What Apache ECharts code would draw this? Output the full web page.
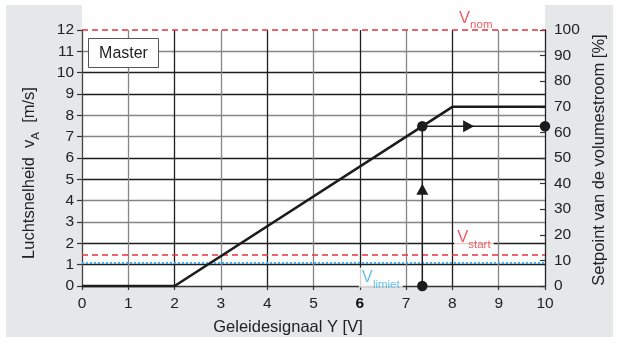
<!DOCTYPE html>
<html><head><meta charset="utf-8">
<script src="https://cdn.jsdelivr.net/npm/echarts@6/dist/echarts.min.js"></script>
<style>html,body{margin:0;padding:0;background:#fff}#c{width:617px;height:344px}</style>
</head><body><div id="c"></div>
<script>
// ---- data ----
const xTickLabels = ['0','1','2','3','4','5','6','7','8','9','10'];
const leftTickLabels = ['0','1','2','3','4','5','6','7','8','9','10','11','12'];
const rightTickLabels = ['0','10','20','30','40','50','60','70','80','90','100'];
const curveX = [0, 2, 8, 10];
const curveY = [0, 0, 8.4, 8.4];
const opX = 7.35;          // operating control signal [V]
const opY = 7.49;          // operating air velocity [m/s]
const arrowUpY = 4.53;
const arrowRightX = 8.35;
const refNames = ['nom', 'start', 'limiet'];
const refValues = [12, 1.45, 1.08];
const refLabelX = [8.08, 8.04, 5.98];

const FONT = "'Liberation Sans', Arial, Helvetica, sans-serif";
const RED = '#e8333c', BLUE = '#3fb1e6', INK = '#1c1c1c';
const GRID_DARK = '#1e1e1e', GRID_LIGHT = '#858585';

const chart = echarts.init(document.getElementById('c'), null, {renderer: 'canvas'});

const curveData = curveX.map((x, i) => [x, curveY[i]]);
const refColor = [RED, RED, BLUE];
const refType = [[6, 4], [6, 4], [2, 2]];
const refWidth = [1.4, 1.4, 2];

const refSeries = refValues.map((v, i) => ({
  type: 'line', name: 'V' + refNames[i], data: [[0, v], [10, v]],
  symbol: 'none', clip: false, z: 4, silent: true,
  lineStyle: {color: refColor[i], width: refWidth[i], type: refType[i]}
}));

const refLabelSeries = refValues.map((v, i) => ({
  type: 'scatter', data: [[refLabelX[i], v]], symbolSize: 0, clip: false, z: 8, silent: true,
  label: {
    show: true, position: [0, 0], align: 'left', verticalAlign: 'middle',
    offset: [0, i === 0 ? -12 : (i === 1 ? -17.5 : 14.5)],
    formatter: '{v|V}{s|' + refNames[i] + '}',
    backgroundColor: i === 0 ? 'transparent' : '#fff', padding: [1, 3, 1, 3],
    rich: {
      v: {fontSize: 16.5, fontFamily: FONT, color: refColor[i], lineHeight: 18, verticalAlign: 'middle'},
      s: {fontSize: 11.5, fontFamily: FONT, color: refColor[i], lineHeight: 10, verticalAlign: 'bottom', padding: [0, 0, -4, 0]}
    }
  }
}));

const option = {
  animation: false,
  grid: {left: 82, right: 72, top: 30, bottom: 58, containLabel: false},
  xAxis: {
    type: 'value', min: 0, max: 10, interval: 1,
    axisLine: {show: true, lineStyle: {color: '#333', width: 1.3}},
    axisTick: {show: true, length: 4, lineStyle: {color: '#333', width: 1.2}},
    axisLabel: {
      color: '#222', fontSize: 15.5, fontFamily: FONT, margin: 10,
      formatter: (v) => { const t = xTickLabels[v]; return t === '6' ? '{b|6}' : t; },
      rich: {b: {fontWeight: 'bold', fontSize: 15.5, fontFamily: FONT, color: '#111'}}
    },
    splitLine: {show: true, showMinLine: false, showMaxLine: false,
      lineStyle: {color: [GRID_LIGHT, GRID_DARK], width: 1.3}}
  },
  yAxis: [{
    type: 'value', min: 0, max: 12, interval: 1, position: 'left',
    name: '{n|Luchtsnelheid  v}{s|A}{n|  [m/s]}', nameLocation: 'middle', nameRotate: 90, nameGap: 44,
    nameTextStyle: {padding: [0, 30, 0, 0],
      rich: {n: {fontSize: 16.5, fontFamily: FONT, color: '#222', lineHeight: 18, verticalAlign: 'middle'},
             s: {fontSize: 11.5, fontFamily: FONT, color: '#222', lineHeight: 10, verticalAlign: 'bottom', padding: [0, 0, -4, 0]}}},
    axisLine: {show: true, lineStyle: {color: '#444', width: 1.3}},
    axisTick: {show: true, length: 5, lineStyle: {color: '#333', width: 1.2}},
    axisLabel: {color: '#222', fontSize: 15.5, fontFamily: FONT, margin: 8,
      formatter: (v) => leftTickLabels[v]},
    splitLine: {show: true, showMinLine: false, showMaxLine: false,
      lineStyle: {color: [GRID_DARK, GRID_DARK, GRID_LIGHT, GRID_LIGHT], width: 1.3}}
  }, {
    type: 'value', min: 0, max: 100, interval: 10, position: 'right',
    axisLine: {show: true, lineStyle: {color: '#222', width: 1.3}},
    axisTick: {show: true, inside: true, length: 5, lineStyle: {color: '#333', width: 1.2}},
    axisLabel: {color: '#222', fontSize: 15.5, fontFamily: FONT, margin: 9,
      formatter: (v) => rightTickLabels[Math.round(v / 10)]},
    splitLine: {show: false}
  }],
  graphic: [
    {type: 'rect', z: -100, silent: true, shape: {x: 6, y: 5, width: 607, height: 332}, style: {fill: '#e6e7e9'}},
    {type: 'rect', z: -99, silent: true, shape: {x: 82, y: 5, width: 463, height: 281}, style: {fill: '#ffffff'}},
    {type: 'rect', z: 50, silent: true, shape: {x: 88.5, y: 38.5, width: 70, height: 29}, style: {fill: '#fff', stroke: '#555', lineWidth: 1}},
    {type: 'text', z: 51, silent: true, x: 123.5, y: 53.5,
      style: {text: 'Master', font: '16px ' + FONT, fill: '#222', textAlign: 'center', textVerticalAlign: 'middle', align: 'center', verticalAlign: 'middle'}},
    {type: 'text', z: 51, silent: true, x: 599, y: 160, rotation: Math.PI / 2,
      style: {text: 'Setpoint van de volumestroom [%]', font: '16.5px ' + FONT, fill: '#222', textAlign: 'center', textVerticalAlign: 'middle', align: 'center', verticalAlign: 'middle'}},
    {type: 'text', z: 51, silent: true, x: 288, y: 327,
      style: {text: 'Geleidesignaal Y [V]', font: '16.5px ' + FONT, fill: '#222', textAlign: 'center', textVerticalAlign: 'middle', align: 'center', verticalAlign: 'middle'}}
  ],
  series: [
    ...refSeries,
    {type: 'line', data: curveData, symbol: 'none', z: 5, clip: false, silent: true,
      lineStyle: {color: INK, width: 2.6}},
    {type: 'line', data: [[opX, 0], [opX, opY]], symbol: 'none', z: 5, clip: false, silent: true,
      lineStyle: {color: INK, width: 1.5}},
    {type: 'line', data: [[opX, opY], [10, opY]], symbol: 'none', z: 5, clip: false, silent: true,
      lineStyle: {color: INK, width: 1.5}},
    {type: 'scatter', data: [[opX, 0], [opX, opY], [10, opY]], symbol: 'circle', symbolSize: 10.5, z: 6, clip: false, silent: true,
      itemStyle: {color: INK, opacity: 1}},
    {type: 'scatter', data: [[opX, arrowUpY]], symbol: 'triangle', symbolSize: [12, 11], z: 6, clip: false, silent: true,
      itemStyle: {color: INK, opacity: 1}},
    {type: 'scatter', data: [[arrowRightX, opY]], symbol: 'triangle', symbolSize: [12, 11], symbolRotate: -90, z: 6, clip: false, silent: true,
      itemStyle: {color: INK, opacity: 1}},
    ...refLabelSeries
  ]
};
chart.setOption(option);
</script></body></html>
